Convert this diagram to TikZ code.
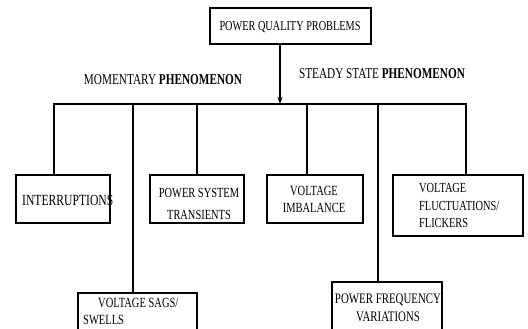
\documentclass[tikz,border=0pt]{standalone}
\usepackage{fontspec}
\setmainfont{Liberation Serif}[FakeStretch=0.75]
\usetikzlibrary{arrows.meta}
\tikzset{
  box/.style={draw=black, line width=1.2pt, rectangle, inner sep=0pt},
  conn/.style={draw=black, line width=1.2pt},
  txt/.style={inner sep=0pt, text=black},
}
\newcommand{\fs}[2]{\fontsize{#1}{#2}\selectfont}
\begin{document}
\begin{tikzpicture}[x=1pt,y=-1pt]
\useasboundingbox (0,0) rectangle (528,329);
\clip (0,0) rectangle (528,329);
% boxes
\node[box, minimum width=161pt, minimum height=36pt] (top) at (290.5,26) {};
\node[box, minimum width=94pt, minimum height=48pt] (int) at (63,199) {};
\node[box, minimum width=94pt, minimum height=48pt] (tra) at (197,199) {};
\node[box, minimum width=96pt, minimum height=48pt] (imb) at (315,199) {};
\node[box, minimum width=130pt, minimum height=61pt] (flu) at (458,205.5) {};
\node[box, minimum width=119pt, minimum height=60pt] (sag) at (137.5,323) {};
\node[box, minimum width=110pt, minimum height=70pt] (frq) at (387,317) {};
% texts
\node[txt, font=\fs{13.7}{16}] (ttop) at (290,27) {POWER QUALITY PROBLEMS};
\node[txt, font=\fs{15}{18}] (tmom) at (163,80) {MOMENTARY \textbf{PHENOMENON}};
\node[txt, font=\fs{15}{18}] (tste) at (382,74) {STEADY STATE \textbf{PHENOMENON}};
\node[txt, anchor=west, font=\fs{15.5}{18}] (tint) at (22,200) {INTERRUPTIONS};
\node[txt, align=center, font=\fs{13.9}{22}] (ttra) at (199,204) {POWER SYSTEM\\TRANSIENTS};
\node[txt, align=center, font=\fs{14}{17}] (timb) at (314,199.5) {VOLTAGE\\IMBALANCE};
\node[txt, align=left, anchor=west, font=\fs{13.8}{17.5}] (tflu) at (419,205.5) {VOLTAGE\\FLUCTUATIONS/\\FLICKERS};
\node[txt, align=left, anchor=west, font=\fs{14}{17}] (tsag) at (83,311.5) {\hspace*{15pt}VOLTAGE SAGS/\\SWELLS};
\node[txt, align=center, font=\fs{14.5}{18}] (tfrq) at (388,308) {POWER FREQUENCY\\VARIATIONS};
% bus
\coordinate (b1) at (54,104);
\coordinate (b2) at (133,104);
\coordinate (b3) at (197,104);
\coordinate (b4) at (307,104);
\coordinate (b5) at (378,104);
\coordinate (b6) at (466,104);
\coordinate (bm) at (280,104);
\draw[conn, line cap=rect] (b1) -- (b6);
\draw[conn, -{Stealth[length=7pt,width=5pt]}] (top.south -| bm) -- (bm);
\draw[conn] (b1) -- (b1 |- int.north);
\draw[conn] (b2) -- (b2 |- sag.north);
\draw[conn] (b3) -- (b3 |- tra.north);
\draw[conn] (b4) -- (b4 |- imb.north);
\draw[conn] (b5) -- (b5 |- frq.north);
\draw[conn] (b6) -- (b6 |- flu.north);
\end{tikzpicture}
\end{document}
